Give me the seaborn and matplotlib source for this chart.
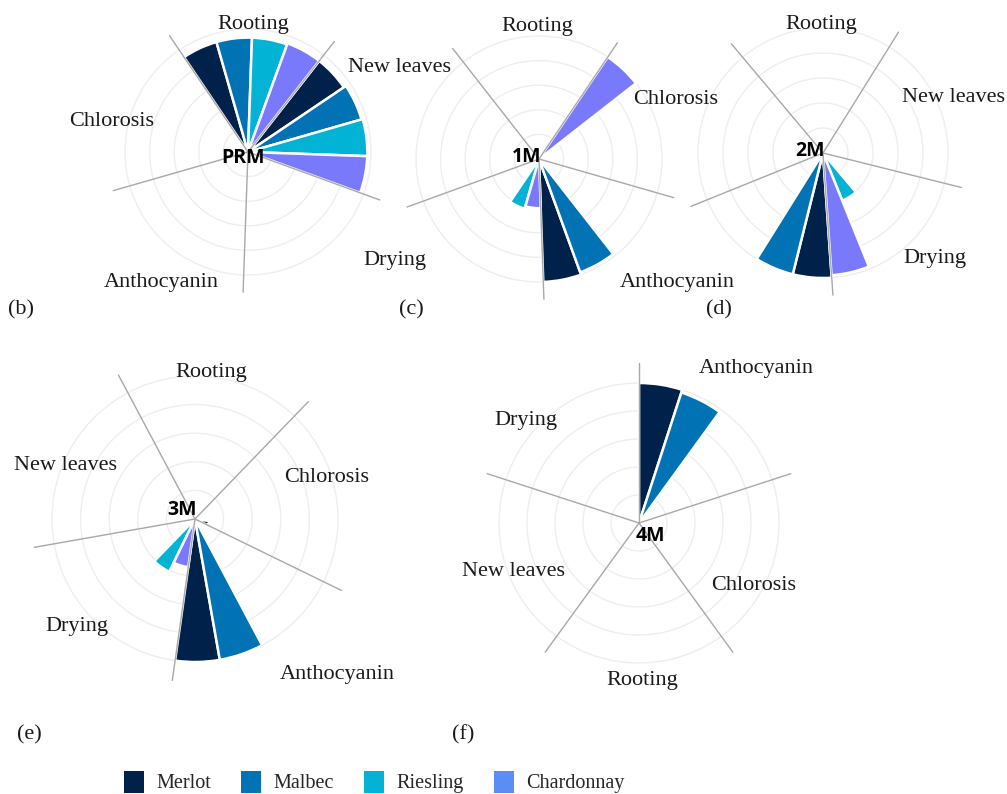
import numpy as np
import matplotlib
matplotlib.use("Agg")
import matplotlib.pyplot as plt
import seaborn as sns
from matplotlib.patches import Patch

sns.set_style("white")

W, H = 1007, 794

symptoms = ["Rooting", "New leaves", "Drying", "Anthocyanin", "Chlorosis"]
varieties = ["Merlot", "Malbec", "Riesling", "Chardonnay"]
palette = sns.color_palette(["#00224A", "#0172B3", "#03B3D6", "#7979FC"])
legend_colors = ["#00224A", "#0172B3", "#03B3D6", "#5B8DF4"]

# share of plants (%) per symptom, in the order of `symptoms`
prm = {"Merlot": [93, 94, 0, 0, 0], "Malbec": [93, 96, 0, 0, 0],
       "Riesling": [93, 97, 0, 0, 0], "Chardonnay": [94, 97, 0, 0, 0]}
m1 = {"Merlot": [0, 0, 0, 100, 8], "Malbec": [0, 0, 0, 98, 0],
      "Riesling": [0, 0, 42, 0, 0], "Chardonnay": [0, 0, 40, 0, 100]}
m2 = {"Merlot": [0, 0, 0, 100, 0], "Malbec": [0, 0, 0, 100, 0],
      "Riesling": [0, 0, 41, 0, 0], "Chardonnay": [0, 0, 98, 0, 0]}
m3 = {"Merlot": [0, 0, 0, 100, 10], "Malbec": [0, 0, 0, 100, 0],
      "Riesling": [0, 0, 41, 0, 0], "Chardonnay": [0, 0, 34, 0, 0]}
m4 = {"Merlot": [0, 0, 0, 100, 0], "Malbec": [0, 0, 0, 98, 0],
      "Riesling": [0, 0, 0, 0, 0], "Chardonnay": [0, 0, 0, 0, 0]}

stage_names = ["PRM", "1M", "2M", "3M", "4M"]
stage_data = [prm, m1, m2, m3, m4]

# layout: centre (px), radius of the 100 % ring (px), start angle (deg), direction
panels = [
    dict(c=(248, 152), r=123, off=124, dir=-1, lab=(243, 158, "center", "center")),
    dict(c=(539, 159), r=123, off=56, dir=1, lab=(541, 157, "right", "center")),
    dict(c=(823, 153), r=125, off=130, dir=-1, lab=(825, 151, "right", "center")),
    dict(c=(195, 519), r=143, off=46, dir=1, lab=(197, 510, "right", "center")),
    dict(c=(639, 523), r=140, off=-54, dir=-1, lab=(636, 536, "left", "center")),
]

RMAX = 118
fig = plt.figure(figsize=(W / 100, H / 100), dpi=100)
fig.patch.set_facecolor("white")

for spec, name, data in zip(panels, stage_names, stage_data):
    cx, cy = spec["c"]
    half = spec["r"] * RMAX / 100
    ax = fig.add_axes([(cx - half) / W, 1 - (cy + half) / H, 2 * half / W, 2 * half / H],
                      projection="polar")
    ax.patch.set_alpha(0)
    ax.set_theta_offset(np.deg2rad(spec["off"]))
    ax.set_theta_direction(spec["dir"])
    ax.set_ylim(0, RMAX)
    ax.set_yticks([20, 40, 60, 80, 100])
    ax.set_yticklabels([])
    ax.set_xticks([])
    ax.grid(True, axis="y", color="#eeeeee", lw=1.0)
    ax.spines["polar"].set_visible(False)

    width = np.deg2rad(18)
    for j, var in enumerate(varieties):
        theta = np.deg2rad(np.arange(len(symptoms)) * 72 + j * 18 + 9)
        ax.bar(theta, data[var], width=width, bottom=0, color=palette[j],
               edgecolor="white", linewidth=1.8, zorder=2)

    for i in range(len(symptoms)):
        t = np.deg2rad(i * 72)
        ax.plot([t, t], [0, 114], color="#a8a8a8", lw=1.0, zorder=3)

    lx, ly, ha, va = spec["lab"]
    fig.text(lx / W, 1 - ly / H, name, ha=ha, va=va, fontsize=14,
             fontweight="bold", family="Open Sans", color="black", zorder=5)

serif = "Liberation Serif"
labels = [
    # panel b
    ("Rooting", 253, 24), ("New leaves", 400, 67), ("Chlorosis", 112, 121),
    ("Anthocyanin", 161, 283), ("Drying", 395, 260),
    # panel c
    ("Rooting", 537, 27), ("Chlorosis", 676, 100), ("Anthocyanin", 677, 283),
    # panel d
    ("Rooting", 821, 25), ("New leaves", 953, 98), ("Drying", 935, 258),
    # panel e
    ("Rooting", 211, 373), ("Chlorosis", 327, 478), ("New leaves", 66, 466),
    ("Drying", 77, 627), ("Anthocyanin", 337, 674),
    # panel f
    ("Anthocyanin", 756, 369), ("Drying", 526, 420), ("New leaves", 514, 571),
    ("Chlorosis", 754, 585), ("Rooting", 642, 680),
]
for txt, x, y in labels:
    fig.text(x / W, 1 - y / H, txt, ha="center", va="center", fontsize=16,
             family=serif, color="#1a1a1a")

for txt, x, y in [("(b)", 21, 310), ("(c)", 411, 310), ("(d)", 719, 310),
                  ("(e)", 29, 735), ("(f)", 463, 735)]:
    fig.text(x / W, 1 - y / H, txt, ha="center", va="center", fontsize=16,
             family=serif, color="#1a1a1a")

handles = [Patch(facecolor=c, edgecolor="none") for c in legend_colors]
fig.legend(handles, varieties, loc="center", bbox_to_anchor=(374 / W, 1 - 782 / H),
           ncol=4, frameon=False, prop={"family": serif, "size": 14.5},
           handlelength=1.0, handleheight=1.3, handletextpad=0.6, columnspacing=1.5)

fig.savefig("out.png", dpi=100, facecolor="white")
